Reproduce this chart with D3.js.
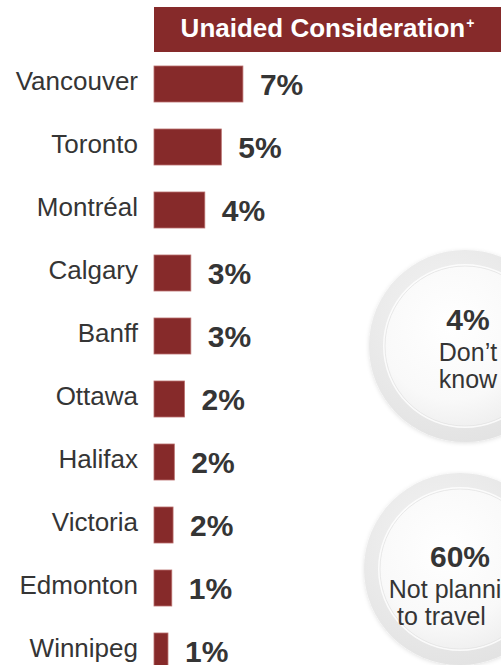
<!DOCTYPE html>
<html>
<head>
<meta charset="utf-8">
<script src="https://cdn.jsdelivr.net/npm/d3@7/dist/d3.min.js"></script>
<style>
  html, body { margin: 0; padding: 0; background: #ffffff; overflow: hidden; }
  svg { display: block; font-family: "Liberation Sans", Arial, sans-serif; }
</style>
</head>
<body>
<svg id="chart" width="501" height="665"></svg>
<script>
// ---- data ----
const cities = ["Vancouver", "Toronto", "Montréal", "Calgary", "Banff", "Ottawa", "Halifax", "Victoria", "Edmonton", "Winnipeg"];
const values = [7.0, 5.3, 4.0, 2.9, 2.9, 2.4, 1.6, 1.5, 1.4, 1.1];
const valueLabels = ["7%", "5%", "4%", "3%", "3%", "2%", "2%", "2%", "1%", "1%"];
const headerTitle = "Unaided Consideration";
const bubbleValues = ["4%", "60%"];
const bubbleLines = [["Don’t", "know"], ["Not planning", "to travel"]];

// ---- layout ----
const svg = d3.select("#chart");
const W = 501, H = 665;
const barColor = "#862a2a";
const textColor = "#353535";

const x = d3.scaleLinear().domain([0, 10]).range([154, 281]);
const y = d3.scaleBand().domain(cities).range([52.5, 682.5])
  .paddingInner(0.4286).paddingOuter(0.2143);

const defs = svg.append("defs");

// header
svg.append("rect")
  .attr("x", x(0)).attr("y", 7)
  .attr("width", W - x(0) + 2).attr("height", 45)
  .attr("fill", barColor);
const ht = svg.append("text")
  .attr("x", (x(0) + W) / 2).attr("y", 37)
  .attr("text-anchor", "middle")
  .attr("fill", "#ffffff")
  .attr("font-size", 26).attr("font-weight", "bold");
ht.append("tspan").text(headerTitle);
ht.append("tspan").attr("font-size", 14).attr("dy", -9).attr("dx", 1).text("+");

// bars
svg.selectAll("rect.bar").data(cities).join("rect")
  .attr("class", "bar")
  .attr("x", x(0))
  .attr("y", d => y(d))
  .attr("width", (d, i) => x(values[i]) - x(0))
  .attr("height", y.bandwidth())
  .attr("fill", barColor)
  .attr("stroke", "#b86d6b").attr("stroke-width", 0.8);

// value labels
svg.selectAll("text.val").data(cities).join("text")
  .attr("class", "val")
  .attr("x", (d, i) => x(values[i]) + 17)
  .attr("y", d => y(d) + y.bandwidth() / 2 + 11)
  .attr("fill", textColor)
  .attr("font-size", 30).attr("font-weight", "bold")
  .text((d, i) => valueLabels[i]);

// category labels
svg.selectAll("text.cat").data(cities).join("text")
  .attr("class", "cat")
  .attr("x", 138)
  .attr("y", d => y(d) + y.bandwidth() / 2 + 6)
  .attr("text-anchor", "end")
  .attr("fill", textColor)
  .attr("font-size", 26)
  .text(d => d);

// bubbles
const ringGrad = defs.append("radialGradient").attr("id", "ring")
  .attr("cx", "40%").attr("cy", "35%").attr("r", "70%");
ringGrad.append("stop").attr("offset", "0%").attr("stop-color", "#f4f4f4");
ringGrad.append("stop").attr("offset", "100%").attr("stop-color", "#e2e2e2");
const innerGrad = defs.append("radialGradient").attr("id", "inner")
  .attr("cx", "42%").attr("cy", "38%").attr("r", "65%");
innerGrad.append("stop").attr("offset", "0%").attr("stop-color", "#ffffff");
innerGrad.append("stop").attr("offset", "70%").attr("stop-color", "#f9f9f9");
innerGrad.append("stop").attr("offset", "100%").attr("stop-color", "#efefef");
const shadow = defs.append("filter").attr("id", "shadow")
  .attr("x", "-20%").attr("y", "-20%").attr("width", "140%").attr("height", "140%");
shadow.append("feDropShadow").attr("dx", 0).attr("dy", 1).attr("stdDeviation", 2)
  .attr("flood-color", "#000").attr("flood-opacity", 0.12);

const bubbles = [
  { cx: 465, cy: 346, tx: 468, ty: 330, anchors: ["middle", "middle"], lx: [468, 468] },
  { cx: 460, cy: 569, tx: 460, ty: 567, anchors: ["middle", "start"], lx: [459, 397] }
];
bubbles.forEach((b, i) => {
  const g = svg.append("g");
  g.append("circle").attr("cx", b.cx).attr("cy", b.cy).attr("r", 96)
    .attr("fill", "url(#ring)").attr("filter", "url(#shadow)");
  g.append("circle").attr("cx", b.cx).attr("cy", b.cy).attr("r", 81)
    .attr("fill", "none").attr("stroke", "#ffffff").attr("stroke-width", 2).attr("opacity", 0.8);
  g.append("circle").attr("cx", b.cx).attr("cy", b.cy).attr("r", 80)
    .attr("fill", "url(#inner)").attr("stroke", "#e4e4e4").attr("stroke-width", 0.8);
  g.append("text").attr("x", b.tx).attr("y", b.ty)
    .attr("text-anchor", "middle").attr("fill", textColor)
    .attr("font-size", 30).attr("font-weight", "bold")
    .text(bubbleValues[i]);
  bubbleLines[i].forEach((line, j) => {
    g.append("text").attr("x", b.lx[j]).attr("y", b.ty + 31 + j * 27)
      .attr("text-anchor", b.anchors[j]).attr("fill", textColor)
      .attr("font-size", 25)
      .text(line);
  });
});
</script>
</body>
</html>
